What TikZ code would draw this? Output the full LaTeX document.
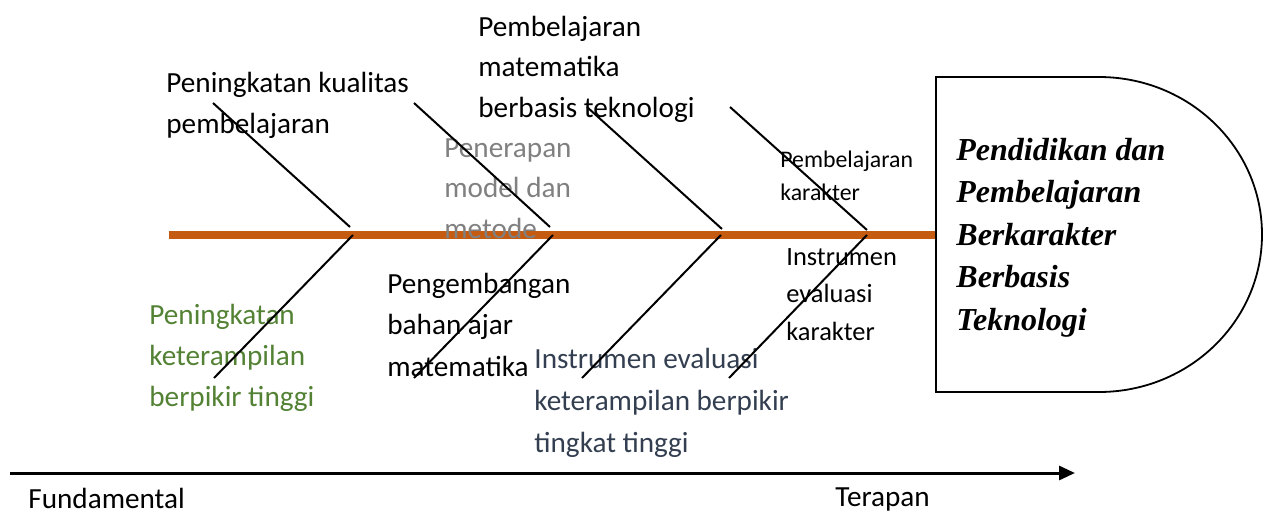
\documentclass[tikz,border=0pt]{standalone}
\usepackage{fontspec}
\setmainfont{Carlito}
\newfontfamily\headfont{Liberation Serif}
\usetikzlibrary{arrows.meta}
\definecolor{spineorange}{RGB}{197,90,17}
\definecolor{txtgray}{RGB}{128,128,128}
\definecolor{txtgreen}{RGB}{84,130,53}
\definecolor{txtslate}{RGB}{51,63,80}
\tikzset{
  lbl/.style={anchor=base west, align=left, inner sep=0pt,
    font=\fontsize{14.6}{20.25}\selectfont},
  smalllbl/.style={lbl, font=\fontsize{11.9}{16.5}\selectfont},
  midlbl/.style={lbl, font=\fontsize{13.2}{18.75}\selectfont},
  headlbl/.style={lbl, font=\headfont\bfseries\itshape\fontsize{16}{21.25}\selectfont},
  spine/.style={line width=4pt, color=spineorange},
  bone/.style={line width=1pt, color=black},
  headline/.style={line width=0.9pt, color=black},
  timeline/.style={-{Triangle[length=8pt, width=7pt]}, line width=1.5pt, color=black}
}

\begin{document}
\begin{tikzpicture}[x=0.5pt, y=-0.5pt]
  \useasboundingbox (0,0) rectangle (1270,514);

  % Spine and head
  \coordinate (tail) at (169,235);
  \coordinate (headleft) at (936,235);
  \draw[spine] (tail) -- (headleft);
  \draw[headline] (936,77) -- (1099,77)
    arc[start angle=-90, end angle=90, x radius=163, y radius=157.5]
    -- (936,392) -- cycle;
  \node[headlbl] (effect) at (956,330)
    {Pendidikan dan\\Pembelajaran\\Berkarakter\\Berbasis\\Teknologi};

  % Upper causes (anchored on last line)
  \node[lbl] (kualitas) at (166,133) {Peningkatan kualitas\\pembelajaran};
  \node[lbl] (teknologi) at (478,117) {Pembelajaran\\matematika\\berbasis teknologi};
  \node[lbl, text=txtgray] (model) at (444,238) {Penerapan\\model dan\\metode};
  \node[smalllbl] (karakter) at (780,200) {Pembelajaran\\karakter};

  % Lower causes
  \node[lbl, font=\fontsize{14.6}{20.5}\selectfont, text=txtgreen] (hots) at (149,406)
    {Peningkatan\\keterampilan\\berpikir tinggi};
  \node[lbl, font=\fontsize{14.6}{20.75}\selectfont] (bahan) at (387,376)
    {Pengembangan\\bahan ajar\\matematika};
  \node[lbl, font=\fontsize{14.6}{21}\selectfont, text=txtslate] (evalhots) at (534,452)
    {Instrumen evaluasi\\keterampilan berpikir\\tingkat tinggi};
  \node[midlbl] (evalkar) at (786,340) {Instrumen\\evaluasi\\karakter};

  % Bones
  \draw[bone] (213,103) -- (350,227);
  \draw[bone] (414,103) -- (550,227);
  \draw[bone] (587,107) -- (722,229);
  \draw[bone] (730,107) -- (867,230);
  \draw[bone] (353,235) -- (214,378);
  \draw[bone] (553,235) -- (414,378);
  \draw[bone] (721,235) -- (582,378);
  \draw[bone] (867,235) -- (729,378);

  % Axis
  \coordinate (start) at (10,473);
  \coordinate (finish) at (1075,473);
  \draw[timeline] (start) -- (finish);
  \node[lbl] (fund) at (28,508) {Fundamental};
  \node[lbl] (terapan) at (835,506) {Terapan};
\end{tikzpicture}
\end{document}
